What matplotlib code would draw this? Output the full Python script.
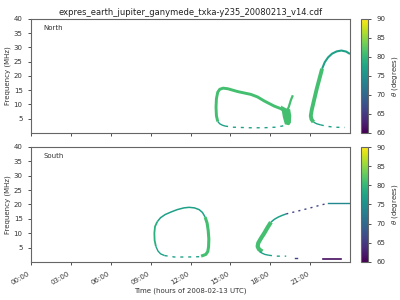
import matplotlib
matplotlib.use("Agg")
import matplotlib.pyplot as plt
import numpy as np
from matplotlib import cm, colors

# ---------------- data (time in hours, frequency in MHz, theta in degrees) ----------------
# North panel
n1_main_t = [14.05, 13.95, 13.92, 13.95, 14.05, 14.2, 14.45, 14.8, 15.55, 16.55, 17.05, 17.55, 18.3, 18.8, 19.1, 19.3, 19.4, 19.35]
n1_main_f = [4.0, 6.0, 9.0, 12.0, 14.3, 15.3, 15.7, 15.5, 14.5, 13.5, 12.6, 11.2, 9.4, 8.5, 7.6, 6.3, 4.5, 3.0]
n1_main_theta = 81
n1_blob_t = [18.8, 19.2, 19.5, 19.58, 19.55, 19.4, 19.1, 18.95]
n1_blob_f = [9.6, 8.6, 8.3, 6.0, 3.5, 2.7, 3.0, 5.5]
n1_spike_t = [19.2, 19.4, 19.55, 19.7]
n1_spike_f = [7.0, 9.2, 11.5, 13.2]
n1_low_t = [14.05, 14.2, 14.4, 14.6]
n1_low_f = [4.0, 3.2, 2.7, 2.4]
n1_dash_t = [14.6, 15.2, 16.5, 17.5, 18.4, 18.9, 19.3]
n1_dash_f = [2.4, 2.0, 1.8, 1.8, 2.0, 2.4, 3.0]
n1_low_theta = 77

n2_rise_t = [21.25, 21.1, 21.05, 21.12, 21.3, 21.5, 21.7, 21.9]
n2_rise_f = [3.8, 4.8, 6.0, 8.0, 11.6, 15.5, 19.0, 22.5]
n2_rise_theta = 81
n2_top_t = [21.9, 22.1, 22.35, 22.65, 23.0, 23.35, 23.7, 24.0]
n2_top_f = [22.5, 24.8, 26.5, 27.8, 28.6, 28.9, 28.55, 27.7]
n2_top_theta = 77
n2_low_t = [21.25, 21.5, 21.8]
n2_low_f = [3.8, 3.2, 2.8]
n2_dash_t = [21.8, 22.3, 22.8, 23.6]
n2_dash_f = [2.8, 2.3, 2.0, 1.9]

# South panel
s1_left_t = [9.4, 9.3, 9.28, 9.33, 9.5]
s1_left_f = [5.35, 7.5, 10.0, 12.3, 14.0]
s1_left_theta = 79
s1_top_t = [9.5, 9.75, 10.1, 10.55, 11.0, 11.5, 11.9, 12.3, 12.65, 12.9, 13.1]
s1_top_f = [14.0, 15.4, 16.5, 17.4, 18.2, 18.8, 19.0, 18.8, 18.2, 17.2, 15.6]
s1_top_theta = 77
s1_right_t = [13.1, 13.25, 13.33, 13.38, 13.36, 13.3, 13.15, 12.8]
s1_right_f = [15.6, 13.5, 11.0, 8.0, 5.3, 3.6, 2.6, 2.0]
s1_right_theta = 81
s1_low_t = [9.4, 9.55, 9.75, 10.05]
s1_low_f = [5.35, 3.8, 2.8, 2.2]
s1_dash_t = [10.05, 10.8, 11.7, 12.6, 12.8]
s1_dash_f = [2.2, 1.7, 1.7, 1.8, 2.0]

s2_thick_t = [17.4, 17.15, 17.05, 17.1, 17.3, 17.55, 17.8, 18.05]
s2_thick_f = [3.6, 4.4, 5.4, 6.6, 8.2, 10.0, 12.0, 13.8]
s2_thick_theta = 81
s2_mid_t = [18.05, 18.3, 18.6, 18.9, 19.2]
s2_mid_f = [13.8, 14.8, 15.6, 16.2, 16.7]
s2_mid_theta = 77
s2_dot_t = [19.2, 19.9, 20.9, 21.8, 22.35]
s2_dot_f = [16.7, 17.5, 18.65, 19.8, 20.4]
s2_dot_theta = 66
s2_flat_t = [22.35, 24.0]
s2_flat_f = [20.4, 20.4]
s2_flat_theta = 74
s2_low_t = [17.2, 17.4, 17.6, 17.9]
s2_low_f = [3.6, 3.0, 2.6, 2.3]
s2_dash_t = [17.9, 18.55, 19.2]
s2_dash_f = [2.3, 2.0, 2.0]
s2_blue_t = [19.85, 20.0]
s2_blue_f = [1.3, 1.3]
s2_blue_theta = 66
s2_purple_t = [22.0, 23.3]
s2_purple_f = [1.0, 1.0]
s2_purple_theta = 61

xtick_hours = [0, 3, 6, 9, 12, 15, 18, 21]
xtick_labels = ["00:00", "03:00", "06:00", "09:00", "12:00", "15:00", "18:00", "21:00"]
yticks = [5, 10, 15, 20, 25, 30, 35, 40]
cbar_ticks = [60, 65, 70, 75, 80, 85, 90]

# ---------------- plotting ----------------
cmap = plt.get_cmap("viridis")
norm = colors.Normalize(vmin=60, vmax=90)

def col(th):
    return cmap(norm(th))

fig = plt.figure(figsize=(4, 3), dpi=100)
ax1 = fig.add_axes([0.0775, 0.557, 0.7975, 0.38])
ax2 = fig.add_axes([0.0775, 0.127, 0.7975, 0.383])
cax1 = fig.add_axes([0.9025, 0.557, 0.0175, 0.38])
cax2 = fig.add_axes([0.9025, 0.127, 0.0175, 0.383])

dash = (0, (2.2, 3.5))
rj = dict(solid_joinstyle="round", solid_capstyle="butt")

# North
ax1.plot(n1_main_t, n1_main_f, color=col(n1_main_theta), lw=2.1, **rj)
ax1.fill(n1_blob_t, n1_blob_f, color=col(n1_main_theta), lw=0)
ax1.plot(n1_spike_t, n1_spike_f, color=col(n1_main_theta), lw=1.6, **rj)
ax1.plot(n1_low_t, n1_low_f, color=col(n1_low_theta), lw=1.0, **rj)
ax1.plot(n1_dash_t, n1_dash_f, color=col(n1_low_theta), lw=1.0, ls=dash)
ax1.plot(n2_rise_t, n2_rise_f, color=col(n2_rise_theta), lw=2.8, **rj)
ax1.plot(n2_top_t, n2_top_f, color=col(n2_top_theta), lw=1.5, **rj)
ax1.plot(n2_low_t, n2_low_f, color=col(n1_low_theta), lw=1.0, **rj)
ax1.plot(n2_dash_t, n2_dash_f, color=col(n1_low_theta), lw=1.0, ls=dash)

# South
ax2.plot(s1_left_t, s1_left_f, color=col(s1_left_theta), lw=1.3, **rj)
ax2.plot(s1_top_t, s1_top_f, color=col(s1_top_theta), lw=1.1, **rj)
ax2.plot(s1_right_t, s1_right_f, color=col(s1_right_theta), lw=2.2, **rj)
ax2.plot(s1_low_t, s1_low_f, color=col(s1_top_theta), lw=1.0, **rj)
ax2.plot(s1_dash_t, s1_dash_f, color=col(s1_top_theta), lw=1.0, ls=dash)
ax2.plot(s2_thick_t, s2_thick_f, color=col(s2_thick_theta), lw=3.0, **rj)
ax2.plot(s2_mid_t, s2_mid_f, color=col(s2_mid_theta), lw=1.1, **rj)
ax2.plot(s2_dot_t, s2_dot_f, color=col(s2_dot_theta), lw=1.0, ls=(0, (1.5, 3)))
ax2.plot(s2_flat_t, s2_flat_f, color=col(s2_flat_theta), lw=1.0)
ax2.plot(s2_low_t, s2_low_f, color=col(s1_top_theta), lw=1.0, **rj)
ax2.plot(s2_dash_t, s2_dash_f, color=col(s1_top_theta), lw=1.0, ls=dash)
ax2.plot(s2_blue_t, s2_blue_f, color=col(s2_blue_theta), lw=1.0)
ax2.plot(s2_purple_t, s2_purple_f, color=col(s2_purple_theta), lw=1.2)

tc = "#333333"
for ax, lab in ((ax1, "North"), (ax2, "South")):
    ax.set_xlim(0, 24)
    ax.set_ylim(0, 40)
    ax.set_yticks(yticks)
    ax.set_xticks(xtick_hours)
    ax.tick_params(labelsize=5, colors=tc, length=2.5, width=0.6)
    ax.set_ylabel("Frequency (MHz)", fontsize=5, color=tc, labelpad=2)
    ax.text(0.04, 0.9, lab, transform=ax.transAxes, fontsize=5, color=tc)
    for s in ax.spines.values():
        s.set_color("#666666")
        s.set_linewidth(0.8)

ax1.set_xticklabels([])
ax2.set_xticklabels(xtick_labels, rotation=30, ha="right")
ax2.set_xlabel("Time (hours of 2008-02-13 UTC)", fontsize=5, color=tc, labelpad=1)
ax1.set_title("expres_earth_jupiter_ganymede_txka-y235_20080213_v14.cdf", fontsize=6.0, color="#222222", pad=3)

sm = cm.ScalarMappable(norm=norm, cmap=cmap)
for cax in (cax1, cax2):
    cb = fig.colorbar(sm, cax=cax)
    cb.set_ticks(cbar_ticks)
    cb.ax.tick_params(labelsize=5, colors=tc, length=2.5, width=0.6)
    cb.set_label(r"$\theta$ (degrees)", fontsize=5, color=tc, labelpad=3)
    cb.outline.set_edgecolor("#666666")
    cb.outline.set_linewidth(0.8)

fig.savefig("out.png", dpi=100)
